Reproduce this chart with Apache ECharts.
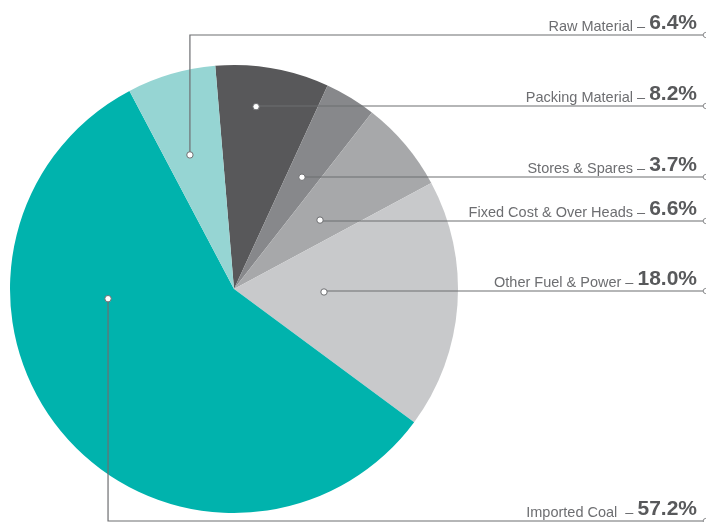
<!DOCTYPE html>
<html>
<head>
<meta charset="utf-8">
<script src="https://cdn.jsdelivr.net/npm/echarts@6/dist/echarts.min.js"></script>
<style>html,body{margin:0;padding:0;background:#fff}#c{width:706px;height:522px}</style>
</head>
<body>
<div id="c"></div>
<script>
// Data (clockwise order starting just left of 12 o'clock)
const categories = ['Packing Material', 'Stores & Spares', 'Fixed Cost & Over Heads', 'Other Fuel & Power', 'Imported Coal', 'Raw Material'];
const values = [8.2, 3.7, 6.6, 18.0, 57.2, 6.4];
const valueLabels = ['8.2%', '3.7%', '6.6%', '18.0%', '57.2%', '6.4%'];

// Styles / annotation layout
const colors = ['#58585a', '#87888b', '#a7a8aa', '#c8c9cb', '#00b3ad', '#96d5d3'];
const nameSep = [' – ', ' – ', ' – ', ' – ', '  – ', ' – '];
const lineY = [106, 177, 221, 291, 521, 35];        // y of horizontal leader
const dotAngle = [6.9, 31.3, 51.3, 91.9, 265.6, -18.2]; // deg clockwise from top
const dotR = [0.82, 0.584, 0.492, 0.402, 0.564, 0.63];  // fraction of radius

const CX = 234, CY = 289, R = 224, LINE_END = 703, TEXT_RIGHT = 697;

function dotPos(i) {
  const a = dotAngle[i] * Math.PI / 180;
  return [CX + R * dotR[i] * Math.sin(a), CY - R * dotR[i] * Math.cos(a)];
}

const chart = echarts.init(document.getElementById('c'));
const graphics = [];
categories.forEach((c, i) => {
  const p = dotPos(i);
  graphics.push({type: 'polyline', shape: {points: [[p[0], p[1]], [p[0], lineY[i]], [LINE_END, lineY[i]]]},
    style: {stroke: '#6d6e71', lineWidth: 1.2, fill: null}, z: 50, silent: true});
  graphics.push({type: 'circle', shape: {cx: p[0], cy: p[1], r: 3.2}, style: {fill: '#fff', stroke: '#6d6e71', lineWidth: 1}, z: 100});
  graphics.push({type: 'circle', shape: {cx: LINE_END + 2.8, cy: lineY[i], r: 2.6}, style: {fill: '#fff', stroke: '#6d6e71', lineWidth: 0.8}, z: 100});
});

chart.setOption({
  animation: false,
  graphic: graphics,
  series: [{
    type: 'pie',
    center: [CX, CY],
    radius: R,
    startAngle: 94.8,
    clockwise: true,
    avoidLabelOverlap: false,
    emphasis: {disabled: true},
    itemStyle: {borderWidth: 0},
    data: categories.map((c, i) => ({name: c, value: values[i], itemStyle: {color: colors[i]}})),
    label: {
      show: true,
      position: 'outer',
      formatter: p => '{n|' + p.name + nameSep[p.dataIndex] + '}{v|' + valueLabels[p.dataIndex] + '}',
      rich: {
        n: {fontFamily: 'Liberation Sans', fontSize: 14.5, color: '#6d6e71', verticalAlign: 'bottom'},
        v: {fontFamily: 'Liberation Sans', fontSize: 21, fontWeight: 'bold', color: '#58595b', verticalAlign: 'bottom'}
      }
    },
    labelLine: {show: false},
    labelLayout: function (params) {
      const i = params.dataIndex;
      return {
        x: TEXT_RIGHT,
        y: lineY[i] - 1,
        align: 'right',
        verticalAlign: 'bottom'
      };
    }
  }]
});
</script>
</body>
</html>
